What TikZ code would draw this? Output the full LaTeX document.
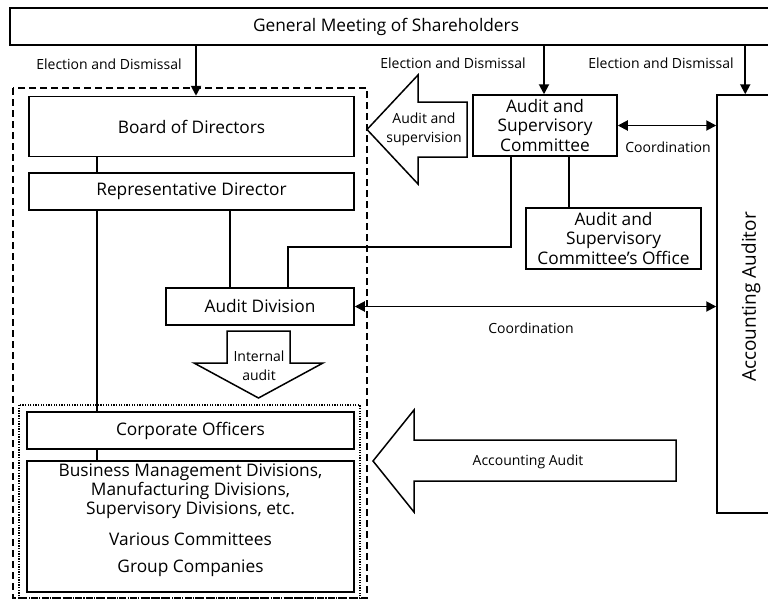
\documentclass[tikz,border=0pt]{standalone}
\usepackage{fontspec}
\setmainfont{Open Sans}
\usetikzlibrary{arrows.meta}
\begin{document}
\begin{tikzpicture}[x=1pt,y=-1pt,
  box/.style={draw, line width=1.5pt, inner sep=0pt, align=center,
    font=\fontsize{17.3}{19.5}\selectfont},
  txt/.style={inner sep=0pt, align=center, font=\fontsize{17.3}{19}\selectfont},
  lbl/.style={inner sep=0pt, align=center, font=\fontsize{14}{19}\selectfont},
  link/.style={line width=1.7pt},
  arr/.style={line width=1.9pt, -{Triangle[length=10pt,width=10pt]}},
  darr/.style={line width=1.9pt, {Triangle[length=10pt,width=10pt]}-{Triangle[length=10pt,width=10pt]}},
  fat/.style={draw, line width=1.5pt, fill=white, line join=miter},
  group/.style={line width=1.7pt, dash pattern=on 7pt off 4pt},
  inner group/.style={line width=1.3pt, dash pattern=on 1.3pt off 1.3pt}
]
\useasboundingbox (0,0) rectangle (768,600);

% enclosing groups
\draw[group] (13,88) rectangle (367,598);
\draw[inner group] (19,405) rectangle (360,598);

% shareholders' meeting (runs past the right edge)
\node[box, minimum width=780pt, minimum height=37pt] (gm) at (400,26.5) {};
\node[txt] (gmtext) at (386,27) {General Meeting of Shareholders};

% executive side
\node[box, minimum width=325pt, minimum height=60pt] (bod) at (191.5,126.5) {Board of Directors};
\node[box, minimum width=325pt, minimum height=37pt] (rep) at (191.5,191.5) {Representative Director};
\node[box, minimum width=188pt, minimum height=37pt] (ad) at (260,306.5) {Audit Division};
\node[box, minimum width=327pt, minimum height=37pt] (co) at (190.5,430.5) {Corporate Officers};
\node[box, minimum width=327pt, minimum height=131pt] (bus) at (190.5,526.5) {};
\node[txt] (busa) at (190.5,491) {Business Management Divisions,\\Manufacturing Divisions,\\Supervisory Divisions, etc.};
\node[txt] (busb) at (190.5,539) {Various Committees};
\node[txt] (busc) at (190.5,568) {Group Companies};

% supervisory side
\node[box, minimum width=144pt, minimum height=61pt] (asc) at (545,125.5) {Audit and\\Supervisory\\Committee};
\node[box, minimum width=175pt, minimum height=61pt] (ascoff) at (613.5,238.5) {Audit and\\Supervisory\\Committee’s Office};

% external auditor (runs past the right edge)
\node[box, minimum width=75pt, minimum height=418pt] (aa) at (754.5,304) {};
\node[txt, rotate=90, font=\fontsize{19}{21}\selectfont] (aatext) at (751,297) {Accounting Auditor};

% appointments
\draw[arr] (bod.north |- gm.south) ++(4.5,0) coordinate (e1) -- (e1 |- bod.north);
\draw[arr] (asc.north |- gm.south) ++(-1,0) coordinate (e2) -- (e2 |- asc.north);
\draw[arr] ([xshift=29pt]aa.north west |- gm.south) -- ([xshift=29pt]aa.north west);
\node[lbl] (l1) at (109,64) {Election and Dismissal};
\node[lbl] (l2) at (453,63) {Election and Dismissal};
\node[lbl] (l3) at (661,63) {Election and Dismissal};

% reporting lines
\draw[link] (bod.south -| 97,0) -- (rep.north -| 97,0);
\draw[link] (rep.south -| 97,0) -- (co.north -| 97,0);
\draw[link] (co.south -| 97,0) -- (bus.north -| 97,0);
\draw[link] (rep.south -| 230,0) -- (ad.north -| 230,0);
\draw[link] (asc.south -| 511,0) -- (511,247) -| (ad.north -| 288,0);
\draw[link] (asc.south -| 569,0) -- (ascoff.north -| 569,0);

% coordination
\draw[darr] (asc.east) -- (asc.east -| aa.west);
\node[lbl] (c1) at (668,147) {Coordination};
\draw[darr] (ad.east) -- (ad.east -| aa.west);
\node[lbl] (c2) at (531,328) {Coordination};

% block arrows
\draw[fat] (367,129.5) -- (418,75) -- (418,102) -- (467,102) -- (467,157)
  -- (418,157) -- (418,184) -- cycle;
\node[lbl] (sup) at (424,129.5) {Audit and\\supervision};

\draw[fat] (227,331) -- (290,331) -- (290,363) -- (323,363) -- (258.5,398)
  -- (194,363) -- (227,363) -- cycle;
\node[lbl] (ia) at (259,365.5) {Internal\\audit};

\draw[fat] (373,461) -- (414,410) -- (414,440) -- (676,440) -- (676,481)
  -- (414,481) -- (414,512) -- cycle;
\node[lbl] (acc) at (528,462) {Accounting Audit};
\end{tikzpicture}
\end{document}
